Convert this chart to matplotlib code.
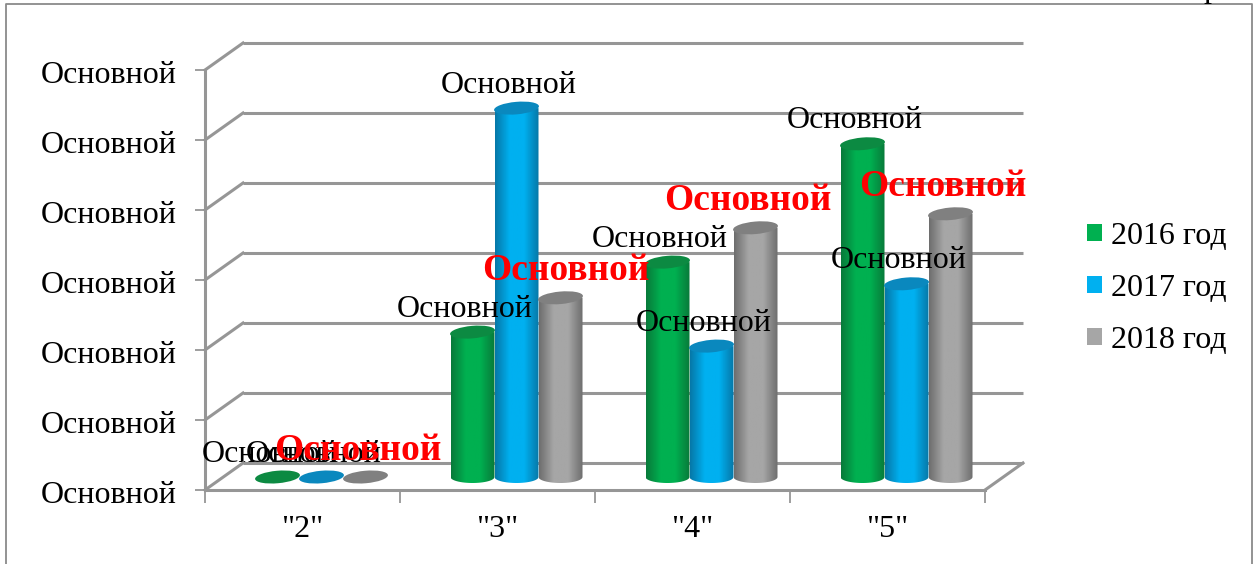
import numpy as np
import matplotlib
matplotlib.use("Agg")
import matplotlib.pyplot as plt
from matplotlib.colors import LinearSegmentedColormap
from matplotlib.lines import Line2D
from matplotlib.patches import Ellipse, Patch, PathPatch
from matplotlib.path import Path
from matplotlib.transforms import Affine2D, ScaledTranslation

categories = ['"2"', '"3"', '"4"', '"5"']
series_names = ["2016 год", "2017 год", "2018 год"]
values_2016 = [0, 2.07, 3.07, 4.76]
values_2017 = [0, 5.27, 1.87, 2.76]
values_2018 = [0, 2.56, 3.56, 3.76]
value_label = "Основной"
y_ticks = [0, 1, 2, 3, 4, 5, 6]

W, H = 1253, 564
plt.rcParams["font.family"] = ["Liberation Serif", "DejaVu Serif"]
fig = plt.figure(figsize=(W / 100, H / 100), dpi=100, facecolor="white")
ax = fig.add_axes([205 / W, (H - 490) / H, 780 / W, 420 / H], facecolor="none")
ax.set_xlim(0, 4)
ax.set_ylim(0, 6)

GRID = "#969696"
FS = 23
DEPTH = (38, 27)
MID = (19, 13)
PX_X = 4 / 780
PX_Y = 6 / 420
back = ax.transData + Affine2D().translate(*DEPTH)
mid = ax.transData + Affine2D().translate(*MID)

# outer chart frame
fig.add_artist(Line2D([6 / W, 6 / W, 1252 / W, 1252 / W], [0, (H - 3.5) / H, (H - 3.5) / H, 0],
                      color="#8a8a8a", lw=1.3, transform=fig.transFigure))
fig.text(1211 / W, (H + 3) / H, "р", fontsize=FS, ha="center", va="baseline", color="black")

# walls and floor
for y in y_ticks:
    ax.plot([0, 4], [y, y], color=GRID, lw=2.2, transform=back, clip_on=False, zorder=1, solid_capstyle="butt")
    px, py = ax.transData.transform((0, y))
    fig.add_artist(Line2D([px, px + DEPTH[0]], [py, py + DEPTH[1]], color=GRID, lw=2.2,
                          transform=None, zorder=1))
fx, fy = ax.transData.transform((4, 0))
fig.add_artist(Line2D([fx, fx + DEPTH[0]], [fy, fy + DEPTH[1]], color=GRID, lw=2.2, transform=None, zorder=1))

for s in ("top", "right"):
    ax.spines[s].set_visible(False)
for s in ("left", "bottom"):
    ax.spines[s].set_color(GRID)
    ax.spines[s].set_linewidth(2.2)
ax.set_yticks(y_ticks)
ax.set_yticklabels([value_label] * len(y_ticks), fontsize=FS)
ax.set_xticks(range(5))
ax.set_xticklabels([""] * 5)
ax.set_xticks(np.arange(len(categories)) + 0.5, minor=True)
ax.set_xticklabels(categories, minor=True, fontsize=FS)
ax.tick_params(axis="y", length=7.2, width=1.3, color=GRID, pad=13.5)
ax.tick_params(axis="x", which="major", length=9, width=1.3, color=GRID)
ax.tick_params(axis="x", which="minor", length=0, pad=18)
for lab in ax.get_yticklabels():
    lab.set_transform(lab.get_transform() + Affine2D().translate(0, -2))

# bars
series = [values_2016, values_2017, values_2018]
base_colors = ["#00B050", "#00B0F0", "#A6A6A6"]
edge_colors = ["#087A3A", "#0678A8", "#6E6E6E"]
top_colors = ["#0C8A42", "#0A88BE", "#808080"]
bar_w = 44 * PX_X
ell_h = 12 * PX_Y

for si, vals in enumerate(series):
    cmap = LinearSegmentedColormap.from_list(
        "b", [edge_colors[si], base_colors[si], base_colors[si], edge_colors[si]])
    for ci, v in enumerate(vals):
        cx = ci + 0.5 + (si - 1) * bar_w
        if v > 0:
            t = np.linspace(0, np.pi, 30)
            verts = [(cx - bar_w / 2, v), (cx + bar_w / 2, v)]
            verts += [(cx + bar_w / 2 * np.cos(a), -ell_h / 2 * np.sin(a)) for a in t]
            verts.append(verts[0])
            clip = PathPatch(Path(verts), transform=mid, fc="none", ec="none")
            ax.add_patch(clip)
            im = ax.imshow(np.linspace(0, 1, 64)[None, :], cmap=cmap, aspect="auto",
                           extent=[cx - bar_w / 2, cx + bar_w / 2, -ell_h, v],
                           zorder=3 + ci)
            im.set_transform(mid)
            im.set_clip_path(clip)
        tr = (Affine2D().rotate_deg(5) + Affine2D().translate(*MID)
              + ScaledTranslation(cx, v, ax.transData))
        ax.add_patch(Ellipse((0, 0), 45, 12.5, transform=tr, fc=top_colors[si], ec="none",
                             zorder=3 + ci, clip_on=False))
ax.set_xlim(0, 4)
ax.set_ylim(0, 6)

# data labels
for si, vals in enumerate(series):
    for ci, v in enumerate(vals):
        cx = ci + 0.5 + (si - 1) * bar_w
        red = si == 2
        nudge_x = 13 if (si == 2 and ci == 1) else 0
        y_px = MID[1] + (27 if red else 23)
        tr = ax.transData + Affine2D().translate(MID[0] - 8 + nudge_x, y_px)
        ax.text(cx, v, value_label, transform=tr, ha="center", va="center",
                fontsize=27 if red else FS, color="red" if red else "black",
                fontweight="bold" if red else "normal", zorder=20, clip_on=False)

handles = [Patch(fc=c, ec="none") for c in base_colors]
fig.legend(handles, series_names, loc="center left",
           bbox_to_anchor=(1087 / W, (H - 288.5) / H), frameon=False, fontsize=FS,
           borderpad=0, borderaxespad=0, handlelength=0.47, handleheight=0.47,
           handletextpad=0.27, labelspacing=0.72)

fig.savefig("out.png", dpi=100, facecolor="white")
